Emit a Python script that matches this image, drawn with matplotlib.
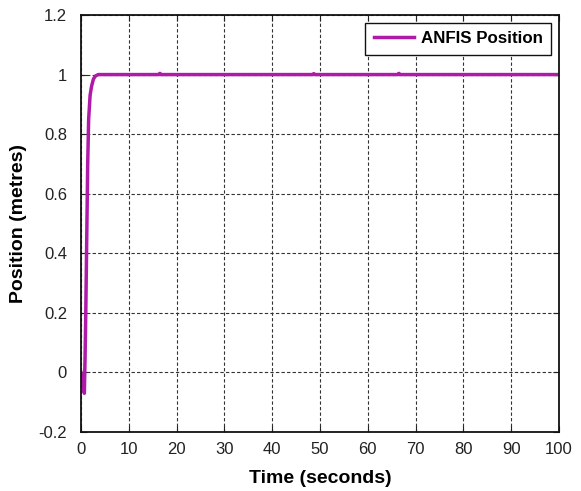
import matplotlib
matplotlib.use("Agg")
import matplotlib.pyplot as plt

t = [0, 0.3, 0.5, 0.7, 0.85, 1.0, 1.2, 1.4, 1.6, 1.9, 2.2, 2.6, 3.0, 3.6, 5, 16.3, 16.5, 16.7, 48.5, 48.7, 48.9, 66.3, 66.5, 66.7, 100]
pos = [0, -0.02, -0.05, -0.07, 0.05, 0.2, 0.45, 0.7, 0.85, 0.93, 0.96, 0.985, 0.995, 1.0, 1.0, 1.0, 1.004, 1.0, 1.0, 1.003, 1.0, 1.0, 1.004, 1.0, 1.0]
xticks = [0, 10, 20, 30, 40, 50, 60, 70, 80, 90, 100]
yticks = [-0.2, 0, 0.2, 0.4, 0.6, 0.8, 1.0, 1.2]
ylabels = ["-0.2", "0", "0.2", "0.4", "0.6", "0.8", "1", "1.2"]

plt.rcParams['font.family'] = ['Liberation Sans', 'DejaVu Sans']
fig = plt.figure(figsize=(5.81, 4.91), dpi=100)
ax = fig.add_axes([81/581, 59/491, 478/581, 417/491])
ax.plot(t, pos, color='#B01AA8', lw=2.5, label='ANFIS Position')
ax.set_xlim(0, 100)
ax.set_ylim(-0.2, 1.2)
ax.set_xticks(xticks)
ax.set_xticklabels([str(v) for v in xticks])
ax.set_yticks(yticks)
ax.set_yticklabels(ylabels)
ax.tick_params(direction='in', top=True, right=True, labelsize=12, length=4, width=0.8, colors='#222222')
ax.tick_params(axis='x', pad=7.5)
ax.tick_params(axis='y', pad=10)
ax.grid(True, color='#333333', linestyle=(0, (3, 2)), lw=0.8)
for s in ax.spines.values():
    s.set_linewidth(1.3)
    s.set_color('#111111')
ax.set_xlabel('Time (seconds)', fontsize=14, fontweight='bold', labelpad=9)
ax.set_ylabel('Position (metres)', fontsize=14, fontweight='bold', labelpad=8)
leg = ax.legend(loc='upper right', fancybox=False, framealpha=1, edgecolor='#111111',
                prop={'weight': 'bold', 'size': 12.2}, borderaxespad=0.45, handlelength=2.4,
                handletextpad=0.4, borderpad=0.5)
leg.get_frame().set_linewidth(1.0)
fig.savefig('out.png', dpi=100)
